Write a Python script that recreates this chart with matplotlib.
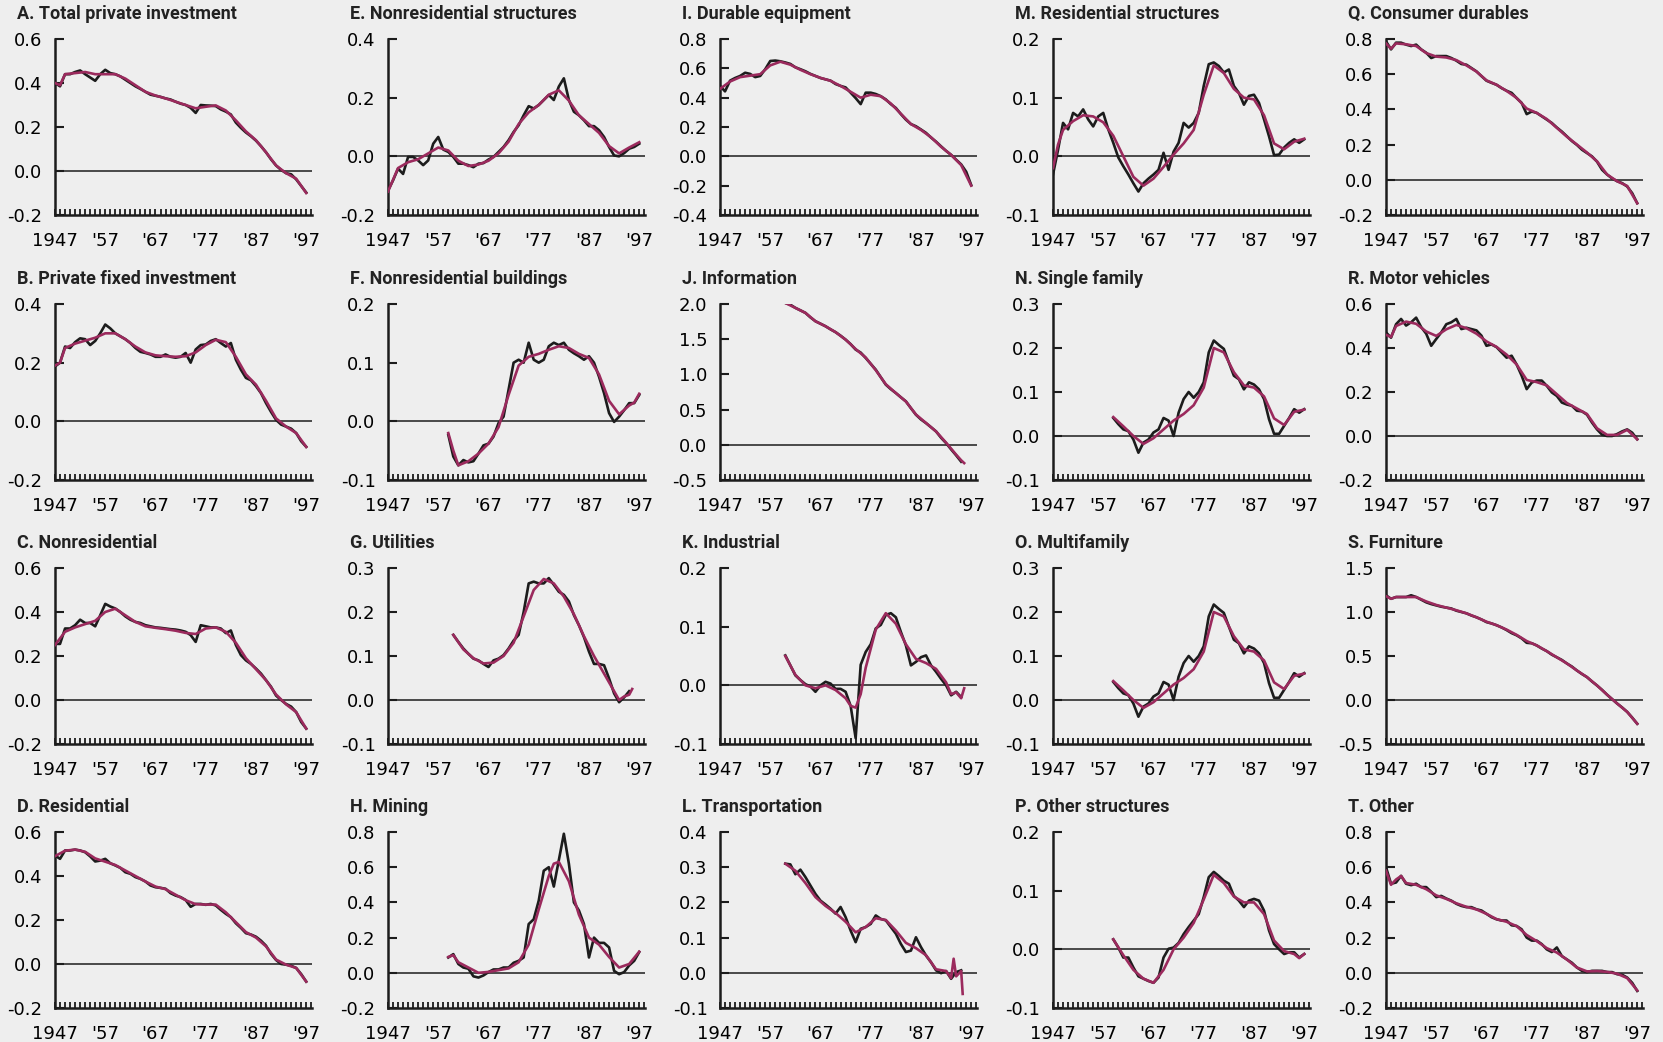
import numpy as np
import matplotlib
matplotlib.use('Agg')
import matplotlib.pyplot as plt
from matplotlib.ticker import FixedLocator, FormatStrFormatter

plt.rcParams['font.family'] = ['DejaVu Sans']
plt.rcParams['axes.unicode_minus'] = False

BG = '#eeeeee'
INK = '#1c1c1c'
TREND = '#9b2a5d'

# ---------------------------------------------------------------- data
# black line: yearly values from the start year; trend: (year, value) pairs

A_start = 1947
A_black = [0.40, 0.385, 0.44,
           0.44, 0.45, 0.457, 0.44, 0.425, 0.41, 0.44, 0.46, 0.445, 0.44,
           0.43, 0.415, 0.40, 0.385, 0.373, 0.36, 0.347, 0.342, 0.337, 0.33,
           0.325, 0.315, 0.306, 0.30, 0.287, 0.264, 0.30, 0.298, 0.297, 0.295,
           0.28, 0.27, 0.257, 0.22, 0.196, 0.175, 0.158, 0.138, 0.113, 0.085,
           0.053, 0.025, 0.005, -0.01, -0.015, -0.038, -0.068, -0.098]
A_trend = [(1947, .40), (1948, .39), (1949, .44), (1951, .445), (1953, .45),
           (1955, .44), (1957, .44), (1959, .44), (1961, .42), (1963, .39),
           (1965, .36), (1967, .343), (1969, .33), (1971, .315), (1973, .30),
           (1975, .285), (1977, .292), (1979, .298), (1981, .275), (1983, .23),
           (1985, .18), (1987, .14), (1989, .085), (1991, .025), (1993, -.01),
           (1995, -.035), (1997, -.10)]

B_start = 1947
B_black = [0.187, 0.20, 0.255,
           0.25, 0.27, 0.283, 0.28, 0.26, 0.274, 0.30, 0.33, 0.317, 0.30,
           0.29, 0.28, 0.267, 0.25, 0.237, 0.233, 0.228, 0.22, 0.22, 0.228,
           0.22, 0.217, 0.22, 0.233, 0.20, 0.245, 0.26, 0.262, 0.274, 0.28,
           0.267, 0.255, 0.267, 0.21, 0.176, 0.148, 0.14, 0.12, 0.096, 0.062,
           0.032, 0.005, -0.011, -0.018, -0.025, -0.04, -0.068, -0.087]
B_trend = [(1947, .19), (1948, .20), (1949, .25), (1951, .265), (1953, .275),
           (1955, .285), (1957, .30), (1959, .30), (1961, .28), (1963, .255),
           (1965, .235), (1967, .225), (1969, .222), (1971, .22), (1973, .222),
           (1975, .235), (1977, .26), (1979, .278), (1981, .27), (1983, .22),
           (1985, .16), (1987, .125), (1989, .07), (1991, .01), (1993, -.018),
           (1995, -.04), (1997, -.087)]

C_start = 1947
C_black = [0.255, 0.255, 0.325,
           0.325, 0.34, 0.365, 0.35, 0.35, 0.335, 0.385, 0.437, 0.425, 0.416,
           0.40, 0.38, 0.365, 0.355, 0.35, 0.34, 0.335, 0.33, 0.328, 0.325,
           0.322, 0.32, 0.316, 0.31, 0.295, 0.264, 0.34, 0.335, 0.33, 0.33,
           0.325, 0.304, 0.316, 0.25, 0.204, 0.18, 0.164, 0.143, 0.12, 0.09,
           0.06, 0.02, 0.0, -0.018, -0.03, -0.055, -0.10, -0.13]
C_trend = [(1947, .25), (1949, .31), (1951, .33), (1953, .345), (1955, .36),
           (1957, .40), (1959, .415), (1961, .385), (1963, .355), (1965, .335),
           (1967, .328), (1969, .322), (1971, .315), (1973, .305), (1975, .30),
           (1977, .325), (1979, .33), (1981, .31), (1983, .26), (1985, .19),
           (1987, .14), (1989, .09), (1991, .025), (1993, -.02), (1995, -.055),
           (1997, -.13)]

D_start = 1947
D_black = [0.493, 0.478, 0.516,
           0.516, 0.52, 0.516, 0.508, 0.489, 0.466, 0.47, 0.478, 0.458, 0.448,
           0.437, 0.417, 0.41, 0.395, 0.387, 0.375, 0.357, 0.349, 0.346, 0.342,
           0.322, 0.311, 0.304, 0.291, 0.26, 0.273, 0.273, 0.269, 0.273, 0.266,
           0.246, 0.228, 0.213, 0.185, 0.164, 0.14, 0.134, 0.124, 0.106, 0.083,
           0.046, 0.018, 0.0, -0.003, -0.008, -0.018, -0.046, -0.08]
D_trend = [(1947, .49), (1949, .515), (1951, .52), (1953, .51), (1955, .48),
           (1957, .465), (1959, .45), (1961, .425), (1963, .40), (1965, .375),
           (1967, .352), (1969, .34), (1971, .315), (1973, .29), (1975, .272),
           (1977, .27), (1979, .27), (1981, .235), (1983, .19), (1985, .145),
           (1987, .12), (1989, .08), (1991, .02), (1993, -.003), (1995, -.018),
           (1997, -.08)]

E_start = 1947
E_black = [-0.117, -0.082, -0.042,
           -0.06, -0.002, -0.002, -0.014, -0.03, -0.014, 0.043, 0.066, 0.023, 0.015,
           -0.002, -0.025, -0.025, -0.03, -0.037, -0.025, -0.023, -0.011, -0.002, 0.015,
           0.032, 0.055, 0.083, 0.106, 0.14, 0.171, 0.163, 0.175, 0.192, 0.209,
           0.192, 0.238, 0.266, 0.192, 0.152, 0.14, 0.123, 0.103, 0.103, 0.089,
           0.066, 0.032, 0.003, 0.0, 0.011, 0.026, 0.032, 0.043]
E_trend = [(1947, -.12), (1949, -.04), (1951, -.02), (1953, -.01), (1955, .01),
           (1957, .03), (1959, .02), (1961, -.015), (1963, -.033), (1965, -.028),
           (1967, -.015), (1969, .01), (1971, .05), (1973, .11), (1975, .15),
           (1977, .175), (1979, .21), (1981, .225), (1983, .19), (1985, .14),
           (1987, .11), (1989, .08), (1991, .035), (1993, .01), (1995, .03),
           (1997, .048)]

F_start = 1959
F_black = [-0.023,
           -0.06, -0.075, -0.066, -0.07, -0.068, -0.055, -0.041, -0.038, -0.026, -0.003,
           0.008, 0.054, 0.10, 0.105, 0.10, 0.134, 0.105, 0.10, 0.105, 0.128,
           0.134, 0.13, 0.134, 0.122, 0.116, 0.111, 0.105, 0.111, 0.10, 0.076,
           0.048, 0.014, -0.001, 0.008, 0.019, 0.031, 0.031, 0.045]
F_trend = [(1959, -.02), (1960, -.05), (1961, -.075), (1963, -.068), (1965, -.055),
           (1967, -.038), (1969, -.01), (1971, .045), (1973, .095), (1975, .11),
           (1977, .115), (1979, .122), (1981, .128), (1983, .125), (1985, .115),
           (1987, .108), (1989, .08), (1991, .035), (1993, .012), (1995, .027),
           (1996, .032), (1997, .047)]

G_start = 1960
G_black = [0.148, 0.132, 0.117, 0.105, 0.094, 0.09, 0.082, 0.075, 0.09, 0.094,
           0.102, 0.117, 0.135, 0.148, 0.20, 0.265, 0.269, 0.265, 0.265, 0.277,
           0.262, 0.246, 0.239, 0.224, 0.193, 0.17, 0.143, 0.11, 0.082, 0.082,
           0.079, 0.049, 0.015, -0.005, 0.006, 0.02]
G_trend = [(1960, .148), (1962, .115), (1964, .095), (1966, .083), (1968, .085),
           (1970, .10), (1972, .13), (1974, .19), (1976, .25), (1978, .275),
           (1980, .265), (1982, .235), (1984, .195), (1986, .145), (1988, .10),
           (1990, .06), (1992, .02), (1993, .0), (1994, .008), (1995, .012),
           (1995.6, .025)]

H_start = 1959
H_black = [0.087,
           0.106, 0.05, 0.03, 0.023, -0.02, -0.027, -0.015, 0.004, 0.019, 0.019,
           0.03, 0.03, 0.057, 0.068, 0.087, 0.277, 0.304, 0.41, 0.58, 0.60,
           0.49, 0.64, 0.79, 0.62, 0.40, 0.354, 0.277, 0.087, 0.20, 0.17,
           0.17, 0.144, 0.011, -0.008, 0.004, 0.042, 0.068, 0.118]
H_trend = [(1959, .09), (1960, .10), (1961, .06), (1963, .03), (1965, .0),
           (1967, .005), (1969, .015), (1971, .025), (1973, .06), (1975, .16),
           (1977, .36), (1979, .55), (1980, .62), (1981, .63), (1983, .52),
           (1985, .33), (1987, .20), (1989, .16), (1991, .09), (1993, .03),
           (1995, .05), (1997, .12)]

I_start = 1947
I_black = [0.48, 0.443, 0.516,
           0.534, 0.548, 0.57, 0.562, 0.54, 0.548, 0.594, 0.65, 0.653, 0.648,
           0.64, 0.63, 0.607, 0.594, 0.58, 0.562, 0.548, 0.534, 0.525, 0.516,
           0.493, 0.48, 0.47, 0.434, 0.397, 0.356, 0.434, 0.434, 0.425, 0.41,
           0.388, 0.356, 0.33, 0.288, 0.25, 0.22, 0.205, 0.183, 0.16, 0.128,
           0.10, 0.068, 0.037, 0.01, -0.023, -0.055, -0.105, -0.196]
I_trend = [(1947, .46), (1949, .51), (1951, .54), (1953, .55), (1955, .56),
           (1957, .62), (1959, .645), (1961, .625), (1963, .59), (1965, .56),
           (1967, .535), (1969, .515), (1971, .48), (1973, .44), (1975, .40),
           (1977, .42), (1979, .41), (1981, .36), (1983, .29), (1985, .22),
           (1987, .18), (1989, .13), (1991, .065), (1993, .01), (1995, -.06),
           (1997, -.20)]

J_start = 1960
J_black = [2.015, 1.99, 1.945, 1.91, 1.874, 1.81, 1.755, 1.72, 1.684, 1.64,
           1.60, 1.55, 1.494, 1.43, 1.352, 1.31, 1.233, 1.15, 1.067, 0.96,
           0.854, 0.79, 0.735, 0.675, 0.617, 0.52, 0.427, 0.36, 0.308, 0.25,
           0.19, 0.10, 0.024, -0.065, -0.15, -0.24]
J_trend = [(1960, 2.015), (1962, 1.945), (1964, 1.874), (1966, 1.755),
           (1968, 1.684), (1970, 1.60), (1972, 1.494), (1974, 1.36),
           (1976, 1.24), (1978, 1.06), (1980, 0.86), (1982, 0.735),
           (1984, 0.615), (1986, 0.43), (1988, 0.31), (1990, 0.19),
           (1992, 0.03), (1994, -0.14), (1995, -0.22), (1995.6, -0.26)]

K_start = 1960
K_black = [0.051, 0.034, 0.017, 0.009, 0.002, -0.002, -0.011, 0.0, 0.006, 0.003,
           -0.006, -0.006, -0.011, -0.035, -0.09, 0.035, 0.057, 0.07, 0.097, 0.103,
           0.12, 0.123, 0.116, 0.091, 0.068, 0.034, 0.04, 0.048, 0.051, 0.034,
           0.023, 0.011, 0.0, -0.017, -0.011, -0.02]
K_trend = [(1960, .05), (1962, .018), (1964, .0), (1966, -.005), (1968, .0),
           (1970, -.008), (1972, -.022), (1973, -.035), (1974, -.038),
           (1975, -.015), (1976, .03), (1978, .095), (1980, .123), (1982, .105),
           (1984, .07), (1986, .045), (1988, .038), (1990, .028), (1992, .005),
           (1993, -.015), (1994, -.012), (1995, -.022), (1995.6, -.005)]

L_start = 1960
L_black = [0.31, 0.308, 0.28, 0.293, 0.272, 0.248, 0.224, 0.205, 0.194, 0.182,
           0.168, 0.187, 0.158, 0.12, 0.087, 0.125, 0.13, 0.139, 0.163, 0.153,
           0.149, 0.13, 0.111, 0.082, 0.059, 0.063, 0.101, 0.073, 0.049, 0.03,
           0.007, -0.001, 0.005, -0.017, 0.002, 0.007]
L_trend = [(1960, .31), (1962, .29), (1964, .255), (1966, .215), (1968, .19),
           (1970, .17), (1972, .145), (1974, .115), (1976, .13), (1978, .155),
           (1980, .15), (1982, .12), (1984, .085), (1986, .07), (1988, .05),
           (1990, .01), (1992, .005), (1993, -.015), (1993.5, .04), (1994, -.01),
           (1995, .005), (1995.3, -.06)]

M_start = 1947
M_black = [-0.031, 0.011, 0.057,
           0.046, 0.074, 0.068, 0.08, 0.063, 0.051, 0.068, 0.074, 0.046, 0.023,
           -0.002, -0.017, -0.031, -0.046, -0.06, -0.046, -0.038, -0.031, -0.023, 0.006,
           -0.023, 0.008, 0.023, 0.057, 0.049, 0.057, 0.074, 0.12, 0.157, 0.16,
           0.154, 0.143, 0.148, 0.12, 0.108, 0.088, 0.103, 0.105, 0.091, 0.063,
           0.034, 0.002, 0.003, 0.015, 0.023, 0.029, 0.023, 0.029]
M_trend = [(1947, -.02), (1948, .02), (1949, .045), (1951, .06), (1953, .07),
           (1955, .068), (1957, .058), (1959, .035), (1961, .0), (1963, -.035),
           (1965, -.05), (1967, -.038), (1969, -.018), (1971, .003), (1973, .022),
           (1975, .045), (1977, .105), (1979, .155), (1981, .142), (1983, .115),
           (1985, .10), (1987, .097), (1989, .07), (1991, .022), (1993, .012),
           (1995, .025), (1997, .03)]

N_start = 1959
N_black = [0.041,
           0.027, 0.015, 0.011, -0.008, -0.038, -0.015, -0.008, 0.008, 0.015, 0.041,
           0.035, 0.0, 0.053, 0.084, 0.10, 0.087, 0.10, 0.122, 0.19, 0.217,
           0.207, 0.198, 0.167, 0.137, 0.129, 0.106, 0.122, 0.117, 0.106, 0.084,
           0.038, 0.005, 0.005, 0.023, 0.041, 0.061, 0.053, 0.061]
N_trend = [(1959, .043), (1961, .022), (1963, .0), (1965, -.018), (1967, -.005),
           (1969, .015), (1971, .035), (1973, .05), (1975, .07), (1977, .11),
           (1979, .20), (1981, .19), (1983, .145), (1985, .115), (1987, .11),
           (1989, .09), (1991, .04), (1993, .025), (1995, .055), (1997, .06)]

# the multifamily panel shows the same curves as single family
O_start = N_start
O_black = N_black
O_trend = N_trend

P_start = 1959
P_black = [0.017,
           0.003, -0.014, -0.014, -0.031, -0.046, -0.05, -0.054, -0.057, -0.048, -0.014,
           0.001, 0.003, 0.011, 0.026, 0.038, 0.049, 0.06, 0.089, 0.123, 0.132,
           0.125, 0.117, 0.112, 0.091, 0.083, 0.072, 0.083, 0.086, 0.083, 0.066,
           0.032, 0.009, 0.0, -0.008, -0.005, -0.005, -0.014, -0.008]
P_trend = [(1959, .017), (1961, -.01), (1963, -.035), (1965, -.05), (1967, -.057),
           (1969, -.035), (1971, .0), (1973, .02), (1975, .045), (1977, .085),
           (1979, .127), (1981, .113), (1983, .09), (1985, .08), (1987, .08),
           (1989, .06), (1991, .015), (1993, -.003), (1995, -.008), (1996, -.015),
           (1997, -.008)]

Q_start = 1947
Q_black = [0.787, 0.741, 0.779,
           0.779, 0.768, 0.76, 0.768, 0.741, 0.722, 0.692, 0.703, 0.703, 0.703,
           0.692, 0.677, 0.658, 0.654, 0.635, 0.616, 0.589, 0.563, 0.551, 0.54,
           0.521, 0.506, 0.494, 0.464, 0.437, 0.373, 0.388, 0.38, 0.361, 0.342,
           0.323, 0.297, 0.274, 0.247, 0.22, 0.198, 0.171, 0.152, 0.133, 0.103,
           0.057, 0.03, 0.008, -0.008, -0.019, -0.038, -0.076, -0.133]
Q_trend = [(1947, .775), (1948, .745), (1949, .775), (1951, .77), (1953, .76),
           (1955, .72), (1957, .70), (1959, .695), (1961, .68), (1963, .65),
           (1965, .615), (1967, .565), (1969, .54), (1971, .505), (1973, .465),
           (1975, .405), (1977, .38), (1979, .345), (1981, .295), (1983, .245),
           (1985, .20), (1987, .155), (1989, .105), (1991, .03), (1993, -.008),
           (1995, -.035), (1997, -.133)]

R_start = 1947
R_black = [0.471, 0.447, 0.508,
           0.532, 0.502, 0.517, 0.538, 0.495, 0.465, 0.41, 0.441, 0.471, 0.508,
           0.517, 0.532, 0.486, 0.492, 0.486, 0.48, 0.456, 0.41, 0.416, 0.404,
           0.38, 0.356, 0.365, 0.325, 0.274, 0.213, 0.243, 0.252, 0.252, 0.228,
           0.198, 0.182, 0.152, 0.143, 0.137, 0.115, 0.112, 0.097, 0.061, 0.03,
           0.006, 0.0, 0.0, 0.009, 0.021, 0.03, 0.015, -0.015]
R_trend = [(1947, .46), (1948, .45), (1949, .50), (1951, .52), (1953, .51),
           (1955, .475), (1957, .455), (1959, .485), (1961, .505), (1963, .49),
           (1965, .465), (1967, .43), (1969, .405), (1971, .37), (1973, .325),
           (1975, .255), (1977, .245), (1979, .23), (1981, .19), (1983, .15),
           (1985, .125), (1987, .10), (1989, .035), (1991, .005), (1993, .005),
           (1995, .028), (1997, -.015)]

S_start = 1947
S_black = [1.19, 1.15, 1.17,
           1.17, 1.17, 1.19, 1.17, 1.14, 1.11, 1.09, 1.075, 1.06, 1.05,
           1.04, 1.015, 1.0, 0.985, 0.96, 0.94, 0.915, 0.885, 0.87, 0.85,
           0.825, 0.795, 0.76, 0.735, 0.70, 0.65, 0.645, 0.62, 0.585, 0.555,
           0.515, 0.485, 0.455, 0.415, 0.38, 0.335, 0.295, 0.26, 0.21, 0.165,
           0.115, 0.06, 0.01, -0.04, -0.085, -0.135, -0.20, -0.27]
S_trend = [(1947, 1.18), (1948, 1.15), (1949, 1.17), (1951, 1.17), (1953, 1.17),
           (1955, 1.12), (1957, 1.08), (1959, 1.05), (1961, 1.02), (1963, 0.985),
           (1965, 0.94), (1967, 0.89), (1969, 0.85), (1971, 0.80), (1973, 0.74),
           (1975, 0.67), (1977, 0.62), (1979, 0.555), (1981, 0.485), (1983, 0.415),
           (1985, 0.335), (1987, 0.26), (1989, 0.165), (1991, 0.06), (1993, -0.04),
           (1995, -0.135), (1997, -0.27)]

T_start = 1947
T_black = [0.60, 0.506, 0.513,
           0.551, 0.506, 0.498, 0.506, 0.487, 0.487, 0.46, 0.43, 0.437, 0.422,
           0.41, 0.392, 0.38, 0.373, 0.373, 0.361, 0.354, 0.335, 0.316, 0.304,
           0.297, 0.297, 0.27, 0.266, 0.247, 0.20, 0.183, 0.183, 0.163, 0.133,
           0.118, 0.144, 0.095, 0.076, 0.057, 0.03, 0.011, 0.004, 0.011, 0.011,
           0.011, 0.004, 0.004, -0.008, -0.011, -0.027, -0.057, -0.103]
T_trend = [(1947, .58), (1948, .50), (1949, .53), (1950, .55), (1951, .51),
           (1953, .50), (1955, .475), (1957, .44), (1959, .42), (1961, .395),
           (1963, .375), (1965, .36), (1967, .335), (1969, .305), (1971, .29),
           (1973, .265), (1975, .215), (1977, .18), (1979, .14), (1981, .115),
           (1983, .075), (1985, .03), (1987, .008), (1989, .01), (1991, .005),
           (1993, -.005), (1995, -.03), (1997, -.10)]

titles = ['A. Total private investment', 'B. Private fixed investment',
          'C. Nonresidential', 'D. Residential',
          'E. Nonresidential structures', 'F. Nonresidential buildings',
          'G. Utilities', 'H. Mining',
          'I. Durable equipment', 'J. Information',
          'K. Industrial', 'L. Transportation',
          'M. Residential structures', 'N. Single family',
          'O. Multifamily', 'P. Other structures',
          'Q. Consumer durables', 'R. Motor vehicles',
          'S. Furniture', 'T. Other']

# y axis range and tick step for each panel
y_ranges = [(-0.2, 0.6, 0.2), (-0.2, 0.4, 0.2), (-0.2, 0.6, 0.2), (-0.2, 0.6, 0.2),
            (-0.2, 0.4, 0.2), (-0.1, 0.2, 0.1), (-0.1, 0.3, 0.1), (-0.2, 0.8, 0.2),
            (-0.4, 0.8, 0.2), (-0.5, 2.0, 0.5), (-0.1, 0.2, 0.1), (-0.1, 0.4, 0.1),
            (-0.1, 0.2, 0.1), (-0.1, 0.3, 0.1), (-0.1, 0.3, 0.1), (-0.1, 0.2, 0.1),
            (-0.2, 0.8, 0.2), (-0.2, 0.6, 0.2), (-0.5, 1.5, 0.5), (-0.2, 0.8, 0.2)]

x_major = [1947, 1957, 1967, 1977, 1987, 1997]
x_labels = ['1947', "'57", "'67", "'77", "'87", "'97"]

series = [(A_start, A_black, A_trend), (B_start, B_black, B_trend),
          (C_start, C_black, C_trend), (D_start, D_black, D_trend),
          (E_start, E_black, E_trend), (F_start, F_black, F_trend),
          (G_start, G_black, G_trend), (H_start, H_black, H_trend),
          (I_start, I_black, I_trend), (J_start, J_black, J_trend),
          (K_start, K_black, K_trend), (L_start, L_black, L_trend),
          (M_start, M_black, M_trend), (N_start, N_black, N_trend),
          (O_start, O_black, O_trend), (P_start, P_black, P_trend),
          (Q_start, Q_black, Q_trend), (R_start, R_black, R_trend),
          (S_start, S_black, S_trend), (T_start, T_black, T_trend)]

# ---------------------------------------------------------------- layout
W, H = 1663, 1042
col_x = [55, 388, 720, 1053, 1386]
row_y = [39, 304, 568, 832]
ax_w, ax_h = 257, 176

fig = plt.figure(figsize=(W / 100, H / 100), dpi=100, facecolor=BG)

for k, (title, (start, black, trend), (lo, hi, step)) in enumerate(
        zip(titles, series, y_ranges)):
    c, r = divmod(k, 4)
    ax = fig.add_axes([col_x[c] / W, 1 - (row_y[r] + ax_h) / H,
                       ax_w / W, ax_h / H])
    ax.set_facecolor(BG)

    yrs = np.arange(start, start + len(black))
    ty, tv = zip(*trend)
    ax.axhline(0, color=INK, lw=1.1, zorder=1)
    ax.plot(yrs, black, color=INK, lw=1.9, zorder=2, solid_joinstyle='round')
    ax.plot(ty, tv, color=TREND, lw=1.9, zorder=3, solid_joinstyle='round')

    ax.set_xlim(1947, 1998.15)
    ax.set_ylim(lo, hi)
    ax.yaxis.set_major_locator(FixedLocator(np.round(np.arange(lo, hi + step / 2, step), 2)))
    ax.yaxis.set_major_formatter(FormatStrFormatter('%.1f'))
    ax.xaxis.set_major_locator(FixedLocator(x_major))
    ax.xaxis.set_minor_locator(FixedLocator(range(1947, 1999)))
    ax.set_xticklabels(x_labels)

    for side in ('top', 'right'):
        ax.spines[side].set_visible(False)
    for side in ('left', 'bottom'):
        ax.spines[side].set_linewidth(1.8)
        ax.spines[side].set_color(INK)

    ax.tick_params(axis='x', which='both', direction='in', length=4,
                   width=1.3, color=INK, pad=12, labelsize=13)
    ax.tick_params(axis='y', direction='in', length=6.5, width=1.5,
                   color=INK, pad=9, labelsize=13)

    fig.text((col_x[c] - 38) / W, 1 - (row_y[r] - 25) / H, title,
             family=['Roboto', 'DejaVu Sans'], fontweight='bold',
             fontsize=13, color='#222222', ha='left', va='center')

fig.savefig('out.png', dpi=100, facecolor=BG)
